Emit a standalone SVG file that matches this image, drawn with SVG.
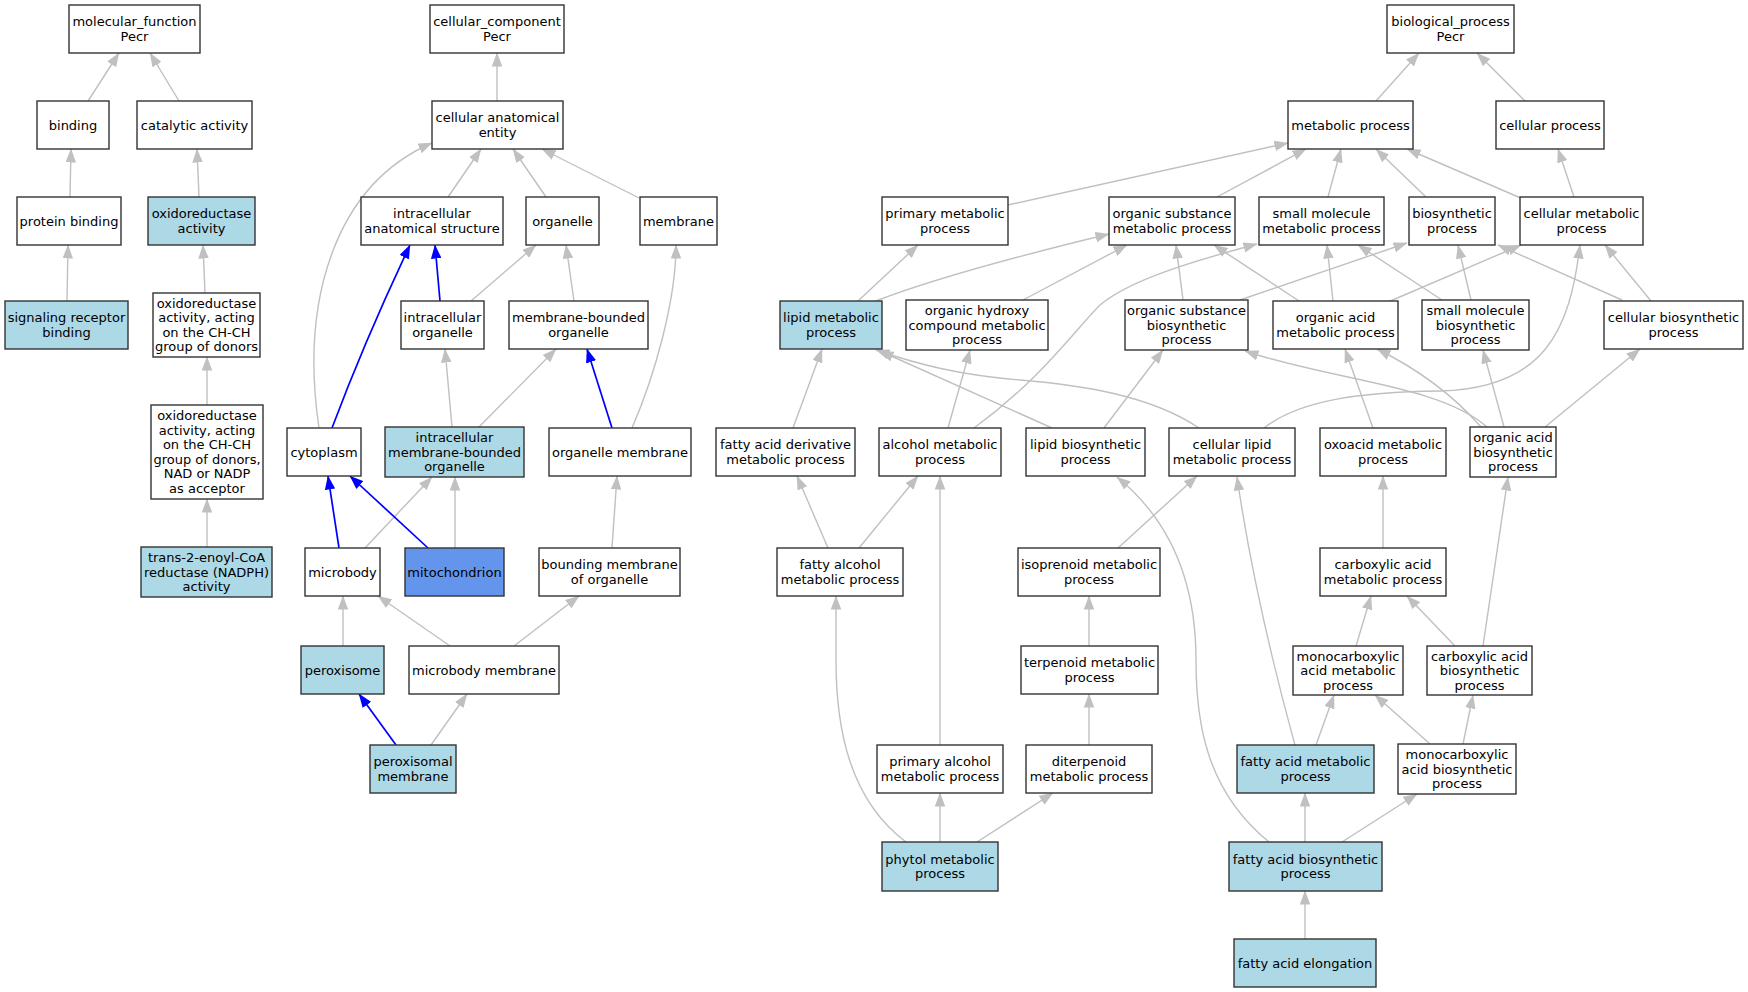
<svg xmlns="http://www.w3.org/2000/svg" width="1748" height="992" viewBox="0 0 1748 992">
<style>
.node rect{stroke:#333;stroke-width:1.4}
.w{fill:#fff}.lb{fill:#ADD8E6}.mi{fill:#6495ED}
.node text{font-family:"DejaVu Sans","Liberation Sans",sans-serif;font-size:13px;fill:#000;text-anchor:middle}
.e{fill:none;stroke:#C0C0C0;stroke-width:1.4;marker-end:url(#ag)}
.b{fill:none;stroke:#0000FF;stroke-width:1.7;marker-end:url(#ab)}
</style>
<defs>
<marker id="ag" viewBox="0 0 14 10.5" refX="13.5" refY="5.25" markerWidth="14" markerHeight="10.5" orient="auto" markerUnits="userSpaceOnUse"><path d="M0,0L14,5.25L0,10.5z" fill="#C0C0C0"/></marker>
<marker id="ab" viewBox="0 0 14 10.5" refX="13.5" refY="5.25" markerWidth="14" markerHeight="10.5" orient="auto" markerUnits="userSpaceOnUse"><path d="M0,0L14,5.25L0,10.5z" fill="#0000FF"/></marker>
</defs>
<rect width="1748" height="992" fill="#fff"/>
<g id="connectors">
<path class="e" d="M88,101 L119,53"/>
<path class="e" d="M179,101 L150,53"/>
<path class="e" d="M70,197 L71,149"/>
<path class="e" d="M199,197 L197,149"/>
<path class="e" d="M67,301 L68,245"/>
<path class="e" d="M205,293 L203,245"/>
<path class="e" d="M207,405 L207,357"/>
<path class="e" d="M207,547 L207,499"/>
<path class="e" d="M497,101 L497,53"/>
<path class="e" d="M448,197 L481,149"/>
<path class="e" d="M546,197 L513,149"/>
<path class="e" d="M639,198 L542,149"/>
<path class="e" d="M319,428 C300,300 335,185 432,143"/>
<path class="e" d="M471,301 L536,245"/>
<path class="e" d="M574,301 L566,245"/>
<path class="e" d="M452,427 L445,349"/>
<path class="e" d="M479,427 L556,349"/>
<path class="e" d="M632,428 C655,375 676,300 676,245"/>
<path class="e" d="M365,548 L432,477"/>
<path class="e" d="M455,548 L455,477"/>
<path class="e" d="M612,548 L617,476"/>
<path class="e" d="M343,646 L343,596"/>
<path class="e" d="M450,646 L378,596"/>
<path class="e" d="M514,646 L579,596"/>
<path class="e" d="M431,745 L467,694"/>
<path class="e" d="M1376,101 L1419,53"/>
<path class="e" d="M1525,101 L1477,53"/>
<path class="e" d="M1008,205 L1288,143"/>
<path class="e" d="M1217,197 L1306,149"/>
<path class="e" d="M1328,197 L1341,149"/>
<path class="e" d="M1426,197 L1376,149"/>
<path class="e" d="M1523,199 L1407,149"/>
<path class="e" d="M1574,197 L1558,149"/>
<path class="e" d="M858,301 L918,245"/>
<path class="e" d="M876,301 C930,280 1010,258 1109,234"/>
<path class="e" d="M1023,300 L1127,245"/>
<path class="e" d="M1183,300 L1176,245"/>
<path class="e" d="M1240,300 L1407,243"/>
<path class="e" d="M1299,301 L1214,245"/>
<path class="e" d="M1333,301 L1327,245"/>
<path class="e" d="M1388,302 L1521,245"/>
<path class="e" d="M974,428 C1040,380 1075,330 1100,305 C1130,280 1190,262 1257,244"/>
<path class="e" d="M1442,300 L1358,245"/>
<path class="e" d="M1471,300 L1458,245"/>
<path class="e" d="M1622,300 L1498,245"/>
<path class="e" d="M1651,301 L1605,245"/>
<path class="e" d="M1264,428 C1300,400 1360,392 1440,391 C1545,388 1570,330 1580,245"/>
<path class="e" d="M793,428 L822,349"/>
<path class="e" d="M948,428 L970,350"/>
<path class="e" d="M1052,428 L880,351"/>
<path class="e" d="M1104,428 L1163,350"/>
<path class="e" d="M1199,428 C1150,395 1080,385 1020,380 C960,375 920,365 876,350"/>
<path class="e" d="M1373,428 L1345,349"/>
<path class="e" d="M1487,427 C1440,385 1330,380 1245,351"/>
<path class="e" d="M1481,427 Q1440,380 1377,349"/>
<path class="e" d="M1504,427 L1483,350"/>
<path class="e" d="M1545,427 L1640,349"/>
<path class="e" d="M828,548 L797,476"/>
<path class="e" d="M859,548 L918,476"/>
<path class="e" d="M1118,548 L1197,476"/>
<path class="e" d="M1383,548 L1383,476"/>
<path class="e" d="M1089,646 L1089,596"/>
<path class="e" d="M1356,646 L1371,596"/>
<path class="e" d="M1455,646 L1407,596"/>
<path class="e" d="M1483,646 L1508,477"/>
<path class="e" d="M940,745 L940,476"/>
<path class="e" d="M1089,745 L1089,694"/>
<path class="e" d="M1316,745 L1334,695"/>
<path class="e" d="M1295,745 Q1255,600 1237,477"/>
<path class="e" d="M1430,744 L1375,695"/>
<path class="e" d="M1463,744 L1473,695"/>
<path class="e" d="M940,842 L940,793"/>
<path class="e" d="M977,842 L1053,793"/>
<path class="e" d="M906,842 C850,800 836,730 836,660 L836,596"/>
<path class="e" d="M1269,842 C1205,790 1196,720 1196,660 C1196,580 1170,520 1117,477"/>
<path class="e" d="M1305,842 L1305,793"/>
<path class="e" d="M1342,842 L1417,794"/>
<path class="e" d="M1305,939 L1305,891"/>
<path class="b" d="M332,428 Q365,340 410,245"/>
<path class="b" d="M440,301 L435,245"/>
<path class="b" d="M612,428 L587,349"/>
<path class="b" d="M339,548 L328,476"/>
<path class="b" d="M428,548 L350,476"/>
<path class="b" d="M396,745 L359,694"/>
</g>
<g id="n_mf" class="node"><rect class="w" x="69" y="5" width="131" height="48"/><text x="134.5" y="26.25">molecular_function<tspan x="134.5" dy="14.5">Pecr</tspan></text></g>
<g id="n_binding" class="node"><rect class="w" x="37" y="101" width="72" height="48"/><text x="73" y="129.5">binding</text></g>
<g id="n_catalytic" class="node"><rect class="w" x="137" y="101" width="115" height="48"/><text x="194.5" y="129.5">catalytic activity</text></g>
<g id="n_protbind" class="node"><rect class="w" x="17" y="197" width="104" height="48"/><text x="69" y="225.5">protein binding</text></g>
<g id="n_oxact" class="node"><rect class="lb" x="148" y="197" width="107" height="48"/><text x="201.5" y="218.25">oxidoreductase<tspan x="201.5" dy="14.5">activity</tspan></text></g>
<g id="n_signal" class="node"><rect class="lb" x="5" y="301" width="123" height="48"/><text x="66.5" y="322.25">signaling receptor<tspan x="66.5" dy="14.5">binding</tspan></text></g>
<g id="n_oxchch" class="node"><rect class="w" x="153" y="293" width="107" height="64"/><text x="206.5" y="307.75">oxidoreductase<tspan x="206.5" dy="14.5">activity, acting</tspan><tspan x="206.5" dy="14.5">on the CH-CH</tspan><tspan x="206.5" dy="14.5">group of donors</tspan></text></g>
<g id="n_oxnad" class="node"><rect class="w" x="151" y="405" width="112" height="94"/><text x="207" y="420.25">oxidoreductase<tspan x="207" dy="14.5">activity, acting</tspan><tspan x="207" dy="14.5">on the CH-CH</tspan><tspan x="207" dy="14.5">group of donors,</tspan><tspan x="207" dy="14.5">NAD or NADP</tspan><tspan x="207" dy="14.5">as acceptor</tspan></text></g>
<g id="n_trans" class="node"><rect class="lb" x="141" y="547" width="131" height="50"/><text x="206.5" y="562">trans-2-enoyl-CoA<tspan x="206.5" dy="14.5">reductase (NADPH)</tspan><tspan x="206.5" dy="14.5">activity</tspan></text></g>
<g id="n_cc" class="node"><rect class="w" x="430" y="5" width="134" height="48"/><text x="497" y="26.25">cellular_component<tspan x="497" dy="14.5">Pecr</tspan></text></g>
<g id="n_cae" class="node"><rect class="w" x="432" y="101" width="131" height="48"/><text x="497.5" y="122.25">cellular anatomical<tspan x="497.5" dy="14.5">entity</tspan></text></g>
<g id="n_ias" class="node"><rect class="w" x="361" y="197" width="142" height="48"/><text x="432" y="218.25">intracellular<tspan x="432" dy="14.5">anatomical structure</tspan></text></g>
<g id="n_organelle" class="node"><rect class="w" x="526" y="197" width="73" height="48"/><text x="562.5" y="225.5">organelle</text></g>
<g id="n_membrane" class="node"><rect class="w" x="640" y="197" width="77" height="48"/><text x="678.5" y="225.5">membrane</text></g>
<g id="n_io" class="node"><rect class="w" x="401" y="301" width="83" height="48"/><text x="442.5" y="322.25">intracellular<tspan x="442.5" dy="14.5">organelle</tspan></text></g>
<g id="n_mbo" class="node"><rect class="w" x="509" y="301" width="139" height="48"/><text x="578.5" y="322.25">membrane-bounded<tspan x="578.5" dy="14.5">organelle</tspan></text></g>
<g id="n_cytoplasm" class="node"><rect class="w" x="287" y="428" width="74" height="48"/><text x="324" y="456.5">cytoplasm</text></g>
<g id="n_imbo" class="node"><rect class="lb" x="385" y="427" width="139" height="50"/><text x="454.5" y="442">intracellular<tspan x="454.5" dy="14.5">membrane-bounded</tspan><tspan x="454.5" dy="14.5">organelle</tspan></text></g>
<g id="n_om" class="node"><rect class="w" x="549" y="428" width="142" height="48"/><text x="620" y="456.5">organelle membrane</text></g>
<g id="n_microbody" class="node"><rect class="w" x="305" y="548" width="75" height="48"/><text x="342.5" y="576.5">microbody</text></g>
<g id="n_mito" class="node"><rect class="mi" x="405" y="548" width="99" height="48"/><text x="454.5" y="576.5">mitochondrion</text></g>
<g id="n_bmo" class="node"><rect class="w" x="539" y="548" width="141" height="48"/><text x="609.5" y="569.25">bounding membrane<tspan x="609.5" dy="14.5">of organelle</tspan></text></g>
<g id="n_peroxisome" class="node"><rect class="lb" x="301" y="646" width="83" height="48"/><text x="342.5" y="674.5">peroxisome</text></g>
<g id="n_mbm" class="node"><rect class="w" x="409" y="646" width="150" height="48"/><text x="484" y="674.5">microbody membrane</text></g>
<g id="n_pm" class="node"><rect class="lb" x="370" y="745" width="86" height="48"/><text x="413" y="766.25">peroxisomal<tspan x="413" dy="14.5">membrane</tspan></text></g>
<g id="n_bp" class="node"><rect class="w" x="1387" y="5" width="127" height="48"/><text x="1450.5" y="26.25">biological_process<tspan x="1450.5" dy="14.5">Pecr</tspan></text></g>
<g id="n_mp" class="node"><rect class="w" x="1288" y="101" width="125" height="48"/><text x="1350.5" y="129.5">metabolic process</text></g>
<g id="n_cp" class="node"><rect class="w" x="1496" y="101" width="108" height="48"/><text x="1550" y="129.5">cellular process</text></g>
<g id="n_pmp" class="node"><rect class="w" x="882" y="197" width="126" height="48"/><text x="945" y="218.25">primary metabolic<tspan x="945" dy="14.5">process</tspan></text></g>
<g id="n_osm" class="node"><rect class="w" x="1109" y="197" width="126" height="48"/><text x="1172" y="218.25">organic substance<tspan x="1172" dy="14.5">metabolic process</tspan></text></g>
<g id="n_smm" class="node"><rect class="w" x="1259" y="197" width="125" height="48"/><text x="1321.5" y="218.25">small molecule<tspan x="1321.5" dy="14.5">metabolic process</tspan></text></g>
<g id="n_bsp" class="node"><rect class="w" x="1409" y="197" width="86" height="48"/><text x="1452" y="218.25">biosynthetic<tspan x="1452" dy="14.5">process</tspan></text></g>
<g id="n_cmp" class="node"><rect class="w" x="1520" y="197" width="123" height="48"/><text x="1581.5" y="218.25">cellular metabolic<tspan x="1581.5" dy="14.5">process</tspan></text></g>
<g id="n_lmp" class="node"><rect class="lb" x="780" y="301" width="102" height="48"/><text x="831" y="322.25">lipid metabolic<tspan x="831" dy="14.5">process</tspan></text></g>
<g id="n_ohc" class="node"><rect class="w" x="906" y="300" width="142" height="50"/><text x="977" y="315">organic hydroxy<tspan x="977" dy="14.5">compound metabolic</tspan><tspan x="977" dy="14.5">process</tspan></text></g>
<g id="n_osb" class="node"><rect class="w" x="1125" y="300" width="123" height="50"/><text x="1186.5" y="315">organic substance<tspan x="1186.5" dy="14.5">biosynthetic</tspan><tspan x="1186.5" dy="14.5">process</tspan></text></g>
<g id="n_oam" class="node"><rect class="w" x="1273" y="301" width="125" height="48"/><text x="1335.5" y="322.25">organic acid<tspan x="1335.5" dy="14.5">metabolic process</tspan></text></g>
<g id="n_smb" class="node"><rect class="w" x="1422" y="300" width="107" height="50"/><text x="1475.5" y="315">small molecule<tspan x="1475.5" dy="14.5">biosynthetic</tspan><tspan x="1475.5" dy="14.5">process</tspan></text></g>
<g id="n_cbp" class="node"><rect class="w" x="1604" y="301" width="139" height="48"/><text x="1673.5" y="322.25">cellular biosynthetic<tspan x="1673.5" dy="14.5">process</tspan></text></g>
<g id="n_fad" class="node"><rect class="w" x="716" y="428" width="139" height="48"/><text x="785.5" y="449.25">fatty acid derivative<tspan x="785.5" dy="14.5">metabolic process</tspan></text></g>
<g id="n_amp" class="node"><rect class="w" x="879" y="428" width="122" height="48"/><text x="940" y="449.25">alcohol metabolic<tspan x="940" dy="14.5">process</tspan></text></g>
<g id="n_lbp" class="node"><rect class="w" x="1026" y="428" width="119" height="48"/><text x="1085.5" y="449.25">lipid biosynthetic<tspan x="1085.5" dy="14.5">process</tspan></text></g>
<g id="n_clm" class="node"><rect class="w" x="1169" y="428" width="126" height="48"/><text x="1232" y="449.25">cellular lipid<tspan x="1232" dy="14.5">metabolic process</tspan></text></g>
<g id="n_oxo" class="node"><rect class="w" x="1320" y="428" width="126" height="48"/><text x="1383" y="449.25">oxoacid metabolic<tspan x="1383" dy="14.5">process</tspan></text></g>
<g id="n_oab" class="node"><rect class="w" x="1470" y="427" width="86" height="50"/><text x="1513" y="442">organic acid<tspan x="1513" dy="14.5">biosynthetic</tspan><tspan x="1513" dy="14.5">process</tspan></text></g>
<g id="n_fal" class="node"><rect class="w" x="777" y="548" width="126" height="48"/><text x="840" y="569.25">fatty alcohol<tspan x="840" dy="14.5">metabolic process</tspan></text></g>
<g id="n_iso" class="node"><rect class="w" x="1018" y="548" width="142" height="48"/><text x="1089" y="569.25">isoprenoid metabolic<tspan x="1089" dy="14.5">process</tspan></text></g>
<g id="n_cam" class="node"><rect class="w" x="1320" y="548" width="126" height="48"/><text x="1383" y="569.25">carboxylic acid<tspan x="1383" dy="14.5">metabolic process</tspan></text></g>
<g id="n_ter" class="node"><rect class="w" x="1021" y="646" width="137" height="48"/><text x="1089.5" y="667.25">terpenoid metabolic<tspan x="1089.5" dy="14.5">process</tspan></text></g>
<g id="n_mam" class="node"><rect class="w" x="1293" y="646" width="110" height="49"/><text x="1348" y="660.5">monocarboxylic<tspan x="1348" dy="14.5">acid metabolic</tspan><tspan x="1348" dy="14.5">process</tspan></text></g>
<g id="n_cab" class="node"><rect class="w" x="1427" y="646" width="105" height="49"/><text x="1479.5" y="660.5">carboxylic acid<tspan x="1479.5" dy="14.5">biosynthetic</tspan><tspan x="1479.5" dy="14.5">process</tspan></text></g>
<g id="n_pam" class="node"><rect class="w" x="877" y="745" width="126" height="48"/><text x="940" y="766.25">primary alcohol<tspan x="940" dy="14.5">metabolic process</tspan></text></g>
<g id="n_dit" class="node"><rect class="w" x="1026" y="745" width="126" height="48"/><text x="1089" y="766.25">diterpenoid<tspan x="1089" dy="14.5">metabolic process</tspan></text></g>
<g id="n_fam" class="node"><rect class="lb" x="1237" y="745" width="137" height="48"/><text x="1305.5" y="766.25">fatty acid metabolic<tspan x="1305.5" dy="14.5">process</tspan></text></g>
<g id="n_mab" class="node"><rect class="w" x="1398" y="744" width="118" height="50"/><text x="1457" y="759">monocarboxylic<tspan x="1457" dy="14.5">acid biosynthetic</tspan><tspan x="1457" dy="14.5">process</tspan></text></g>
<g id="n_phy" class="node"><rect class="lb" x="882" y="842" width="116" height="49"/><text x="940" y="863.75">phytol metabolic<tspan x="940" dy="14.5">process</tspan></text></g>
<g id="n_fab" class="node"><rect class="lb" x="1229" y="842" width="153" height="49"/><text x="1305.5" y="863.75">fatty acid biosynthetic<tspan x="1305.5" dy="14.5">process</tspan></text></g>
<g id="n_fae" class="node"><rect class="lb" x="1234" y="939" width="142" height="48"/><text x="1305" y="967.5">fatty acid elongation</text></g>
</svg>
